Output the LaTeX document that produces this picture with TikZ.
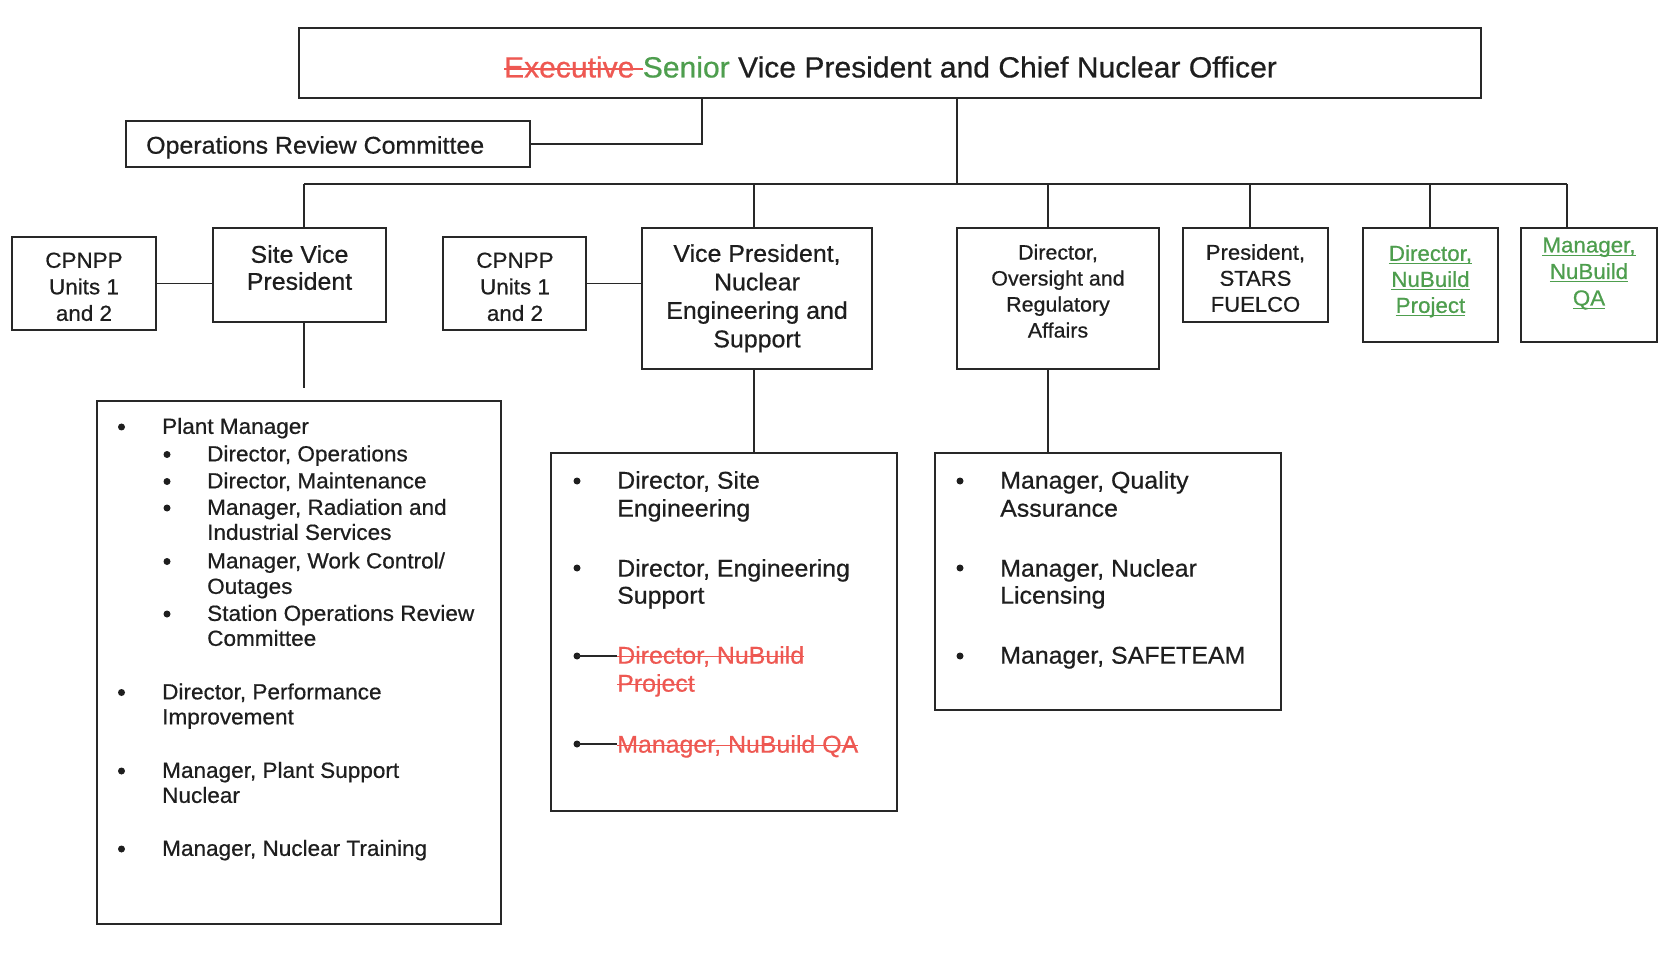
\documentclass[tikz,border=0pt]{standalone}
\usepackage{fontspec}
\setmainfont[FakeStretch=1.03,FakeBold=0.6]{Liberation Sans}
\usepackage{xcolor}
\definecolor{xred}{RGB}{238,88,82}
\definecolor{xgreen}{RGB}{78,158,78}
\definecolor{ink}{RGB}{30,30,30}
\definecolor{edge}{RGB}{40,40,40}
\newcommand{\mystk}[1]{\setbox0\hbox{#1}\rlap{\rule[0.26em]{\wd0}{1.5pt}}\box0}
\newcommand{\myul}[1]{\setbox0\hbox{#1}\rlap{\rule[-0.16em]{\wd0}{1.4pt}}\box0}
\begin{document}
\begin{tikzpicture}[x=1pt,y=-1pt,
  box/.style={draw=edge, line width=1.9pt, inner sep=0pt},
  conn/.style={draw=edge, line width=1.9pt},
  lbl/.style={align=center, inner sep=0pt, text=ink, text depth=0pt},
  li/.style={anchor=west, inner sep=0pt, text=ink, text depth=0pt},
  liA/.style={li, font=\fontsize{21.9}{25}\selectfont, text height=15.7pt},
  liB/.style={li, font=\fontsize{24.2}{28}\selectfont, text height=17.3pt},
  bul/.style={circle, fill=ink, inner sep=0pt, minimum size=7pt},
]
\fill[white] (0,0) rectangle (1671,973);
\useasboundingbox (0,0) rectangle (1671,973);

% boxes
\node[box, minimum width=1182pt, minimum height=70pt] (top) at (890,63) {};
\node[box, minimum width=404pt, minimum height=46pt] (orc) at (328,144) {};
\node[box, minimum width=144pt, minimum height=93pt] (cp1) at (84,283.5) {};
\node[box, minimum width=173pt, minimum height=94pt] (svp) at (299.5,275) {};
\node[box, minimum width=143pt, minimum height=93pt] (cp2) at (514.5,283.5) {};
\node[box, minimum width=230pt, minimum height=141pt] (vpn) at (757,298.5) {};
\node[box, minimum width=202pt, minimum height=141pt] (ovr) at (1058,298.5) {};
\node[box, minimum width=145pt, minimum height=94pt] (stars) at (1255.5,275) {};
\node[box, minimum width=135pt, minimum height=114pt] (dnb) at (1430.5,285) {};
\node[box, minimum width=136pt, minimum height=114pt] (mqa) at (1589,285) {};
\node[box, minimum width=404pt, minimum height=523pt] (llist) at (299,662.5) {};
\node[box, minimum width=346pt, minimum height=358pt] (mlist) at (724,632) {};
\node[box, minimum width=346pt, minimum height=257pt] (rlist) at (1108,581.5) {};

% labels
\node[lbl, font=\fontsize{29.2}{32}\selectfont, text height=20.9pt] (title) at (890.5,67)
  {{\color{xred}\mystk{Executive\ }}{\color{xgreen}Senior} Vice President and Chief Nuclear Officer};
\node[li, font=\fontsize{24.2}{28}\selectfont, text height=17.3pt] (orcT) at (146,145) {Operations Review Committee};
\node[lbl, font=\fontsize{21.8}{26.5}\selectfont] (cp1T) at (84,286.7) {CPNPP\\Units 1\\and 2};
\node[lbl, font=\fontsize{24.2}{27}\selectfont] (svpT) at (299.5,267.5) {Site Vice\\President};
\node[lbl, font=\fontsize{21.8}{26.5}\selectfont] (cp2T) at (515,286.7) {CPNPP\\Units 1\\and 2};
\node[lbl, font=\fontsize{24.2}{28.5}\selectfont] (vpnT) at (757,295.8) {Vice President,\\Nuclear\\Engineering and\\Support};
\node[lbl, font=\fontsize{20.8}{26}\selectfont] (ovrT) at (1058,291) {Director,\\Oversight and\\Regulatory\\Affairs};
\node[lbl, font=\fontsize{21.4}{26}\selectfont] (starsT) at (1255.5,278) {President,\\STARS\\FUELCO};
\node[lbl, font=\fontsize{21.7}{26}\selectfont, text=xgreen] (dnbT) at (1430.5,279)
  {\myul{Director,}\\\myul{NuBuild}\\\myul{Project}};
\node[lbl, font=\fontsize{21.7}{26.5}\selectfont, text=xgreen] (mqaT) at (1589,271.5)
  {\myul{Manager,}\\\myul{NuBuild}\\\myul{QA}};

% connectors
\coordinate (jORC) at (702,144);
\draw[conn] (top.south -| jORC) -- (jORC) -- (orc.east);
\coordinate (jT) at (957,184);
\draw[conn] (top.south -| jT) -- (jT);
\coordinate (b1) at (304,184);
\coordinate (b2) at (754,184);
\coordinate (b3) at (1048,184);
\coordinate (b4) at (1250,184);
\coordinate (b5) at (1430,184);
\coordinate (b6) at (1567,184);
\draw[conn] (b1) -- (b6);
\draw[conn] (b1) -- (b1 |- svp.north);
\draw[conn] (b2) -- (b2 |- vpn.north);
\draw[conn] (b3) -- (b3 |- ovr.north);
\draw[conn] (b4) -- (b4 |- stars.north);
\draw[conn] (b5) -- (b5 |- dnb.north);
\draw[conn] (b6) -- (b6 |- mqa.north);
\draw[conn] (cp1.east) -- (cp1.east -| svp.west);
\draw[conn] (cp2.east) -- (cp2.east -| vpn.west);
\coordinate (dSV) at (304,388);
\draw[conn] (svp.south -| dSV) -- (dSV);
\draw[conn] (vpn.south -| b2) -- (b2 |- mlist.north);
\draw[conn] (ovr.south -| b3) -- (b3 |- rlist.north);

% left list
\node[bul] (lb1) at (121.5,427) {};
\node[liA] (l1) at (162,426) {Plant Manager};
\node[bul] (lb2) at (167,454.5) {};
\node[liA] (l2) at (207,453.5) {Director, Operations};
\node[bul] (lb3) at (167,481.5) {};
\node[liA] (l3) at (207,480.5) {Director, Maintenance};
\node[bul] (lb4) at (167,508) {};
\node[liA] (l4) at (207,507) {Manager, Radiation and};
\node[liA] (l5) at (207,532) {Industrial Services};
\node[bul] (lb6) at (167,561.5) {};
\node[liA] (l6) at (207,560.5) {Manager, Work Control/};
\node[liA] (l7) at (207,586) {Outages};
\node[bul] (lb8) at (167,614) {};
\node[liA] (l8) at (207,613) {Station Operations Review};
\node[liA] (l9) at (207,638) {Committee};
\node[bul] (lb10) at (121.5,692.5) {};
\node[liA] (l10) at (162,691.5) {Director, Performance};
\node[liA] (l11) at (162,716.5) {Improvement};
\node[bul] (lb12) at (121.5,771) {};
\node[liA] (l12) at (162,770) {Manager, Plant Support};
\node[liA] (l13) at (162,795) {Nuclear};
\node[bul] (lb14) at (121.5,849) {};
\node[liA] (l14) at (162,848) {Manager, Nuclear Training};

% middle list
\node[bul] (mb1) at (577,481) {};
\node[liB] (m1) at (617,480) {Director, Site};
\node[liB] (m2) at (617,508) {Engineering};
\node[bul] (mb3) at (577,568) {};
\node[liB] (m3) at (617,568) {Director, Engineering};
\node[liB] (m4) at (617,595) {Support};
\node[bul] (mb5) at (577,656) {};
\node[liB, text=xred] (m5) at (617,655) {\mystk{Director, NuBuild}};
\node[liB, text=xred] (m6) at (617,683) {\mystk{Project}};
\node[bul] (mb7) at (577,744) {};
\node[liB, text=xred] (m7) at (617,744) {\mystk{Manager, NuBuild QA}};
\draw[edge, line width=2.4pt] (mb5.center) -- (mb5.center -| m5.west);
\draw[edge, line width=2.4pt] (mb7.center) -- (mb7.center -| m7.west);

% right list
\node[bul] (rb1) at (960,481) {};
\node[liB] (r1) at (1000,480) {Manager, Quality};
\node[liB] (r2) at (1000,508) {Assurance};
\node[bul] (rb3) at (960,568) {};
\node[liB] (r3) at (1000,568) {Manager, Nuclear};
\node[liB] (r4) at (1000,595) {Licensing};
\node[bul] (rb5) at (960,656) {};
\node[liB] (r5) at (1000,655) {Manager, SAFETEAM};
\end{tikzpicture}
\end{document}
